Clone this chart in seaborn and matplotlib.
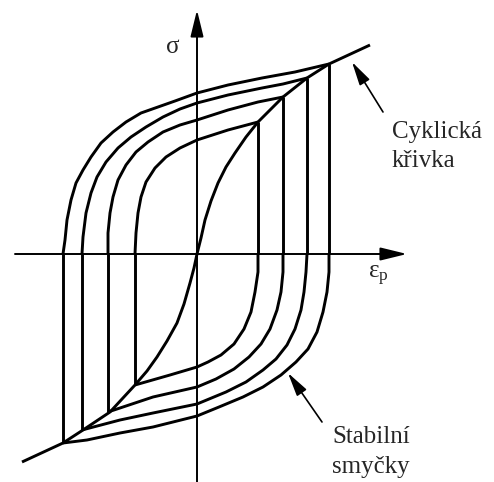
import matplotlib
matplotlib.use("Agg")
import matplotlib.pyplot as plt
import seaborn as sns
import pandas as pd

sns.set_theme(style="white")
plt.rcParams["font.family"] = ["Liberation Serif", "DejaVu Serif"]
plt.rcParams["mathtext.fontset"] = "custom"
plt.rcParams["mathtext.rm"] = "Liberation Serif"

# Cyclic stress-strain curve (arbitrary units)
cyc_x = [-175, -134, -114, -87, -62, -50, -40, -30, -20, -13, -7, -3, 0,
         4, 8, 14, 21, 29, 38, 49, 61, 86, 110, 132, 173]
cyc_y = [-208, -189, -176, -158, -131, -117, -103, -87, -69, -50, -29, -14, 0,
         16, 34, 53, 71, 87, 101, 117, 132, 157, 176, 190, 209]

# Loop tips
tip_up_x = [61, 86, 110, 132]
tip_up_y = [132, 157, 176, 190]
tip_lo_x = [-62, -89, -115, -134]
tip_lo_y = [-131, -158, -176, -189]

# Upper (loading) branches of the stable loops
up1_x = [-62, -61, -59, -56, -51, -42, -31, -17, 0, 31, 61]
up1_y = [0, 21, 41, 57, 72, 86, 97, 106, 114, 124, 132]
up2_x = [-89, -89, -87, -84, -79, -71, -61, -49, -34, -17, 0, 31, 61, 86]
up2_y = [0, 21, 41, 57, 74, 89, 102, 112, 122, 129, 134, 144, 152, 157]
up3_x = [-115, -114, -111, -106, -100, -91, -79, -66, -51, -34, -17, 0, 31, 65, 86, 110]
up3_y = [0, 17, 41, 61, 77, 92, 106, 117, 127, 137, 145, 151, 159, 166, 170, 176]
up4_x = [-134, -132, -130, -126, -121, -114, -106, -96, -84, -71, -56, -39, -22, 0,
         31, 65, 98, 132]
up4_y = [0, 14, 34, 54, 71, 84, 97, 111, 122, 132, 141, 147, 153, 161,
         169, 176, 182, 190]

# Lower (unloading) branches
lo1_x = [61, 61, 58, 54, 47, 37, 24, 11, 0, -27, -62]
lo1_y = [0, -18, -38, -58, -75, -90, -101, -108, -113, -121, -131]
lo2_x = [86, 86, 84, 80, 73, 64, 52, 37, 19, 0, -44, -89]
lo2_y = [0, -18, -38, -56, -75, -90, -103, -115, -125, -133, -143, -158]
lo3_x = [110, 109, 107, 104, 98, 90, 79, 66, 49, 29, 0, -44, -77, -115]
lo3_y = [0, -18, -38, -56, -75, -91, -105, -116, -128, -138, -150, -159, -166, -176]
lo4_x = [132, 132, 130, 126, 120, 111, 99, 84, 66, 46, 22, 0, -44, -77, -110, -134]
lo4_y = [0, -18, -38, -58, -78, -95, -108, -121, -133, -143, -153, -162,
         -173, -179, -186, -189]

rows = []
def add(name, xs, ys):
    for i, (x, y) in enumerate(zip(xs, ys)):
        rows.append({"curve": name, "order": i, "eps": x, "sigma": y})

add("cyc", cyc_x, cyc_y)
for k, (ux, uy, lx, ly) in enumerate([(up1_x, up1_y, lo1_x, lo1_y), (up2_x, up2_y, lo2_x, lo2_y),
                                      (up3_x, up3_y, lo3_x, lo3_y), (up4_x, up4_y, lo4_x, lo4_y)]):
    add(f"up{k}", ux, uy)
    add(f"lo{k}", lx, ly)
    add(f"vr{k}", [tip_up_x[k], tip_up_x[k]], [0, tip_up_y[k]])
    add(f"vl{k}", [tip_lo_x[k], tip_lo_x[k]], [0, tip_lo_y[k]])

df = pd.DataFrame(rows)

fig = plt.figure(figsize=(4.94, 4.82), dpi=100)
ax = fig.add_axes([0, 0, 1, 1])
sns.lineplot(data=df, x="eps", y="sigma", units="curve", estimator=None, sort=False,
             color="black", lw=2.1, ax=ax, legend=False, solid_joinstyle="round",
             solid_capstyle="butt")

ax.set_xlim(-197, 297)
ax.set_ylim(-228, 254)
ax.axis("off")

akw = dict(arrowstyle="-|>,head_length=0.9,head_width=0.22", color="black", lw=1.4,
           shrinkA=0, shrinkB=0, mutation_scale=18)
ax.annotate("", xy=(210, 0), xytext=(-182, 0), arrowprops=akw)
ax.annotate("", xy=(0, 244), xytext=(0, -230), arrowprops=akw)

pkw = dict(arrowstyle="-|>,head_length=0.9,head_width=0.22", color="black", lw=1.2,
           shrinkA=0, shrinkB=0, mutation_scale=16)
ax.annotate("", xy=(155, 192), xytext=(186, 142), arrowprops=pkw)
ax.annotate("", xy=(91, -119), xytext=(125, -168), arrowprops=pkw)

fs = 18
ax.text(-24, 207, "σ", fontsize=fs, ha="center", va="center")
ax.text(181, -22, r"$\mathrm{ε_p}$", fontsize=fs, ha="center", va="center")
ax.text(195, 116, "Cyklická", fontsize=fs, ha="left", va="baseline")
ax.text(195, 87, "křivka", fontsize=fs, ha="left", va="baseline")
ax.text(135, -189, "Stabilní", fontsize=fs, ha="left", va="baseline")
ax.text(135, -219, "smyčky", fontsize=fs, ha="left", va="baseline")

fig.savefig("out.png", dpi=100, facecolor="white")
